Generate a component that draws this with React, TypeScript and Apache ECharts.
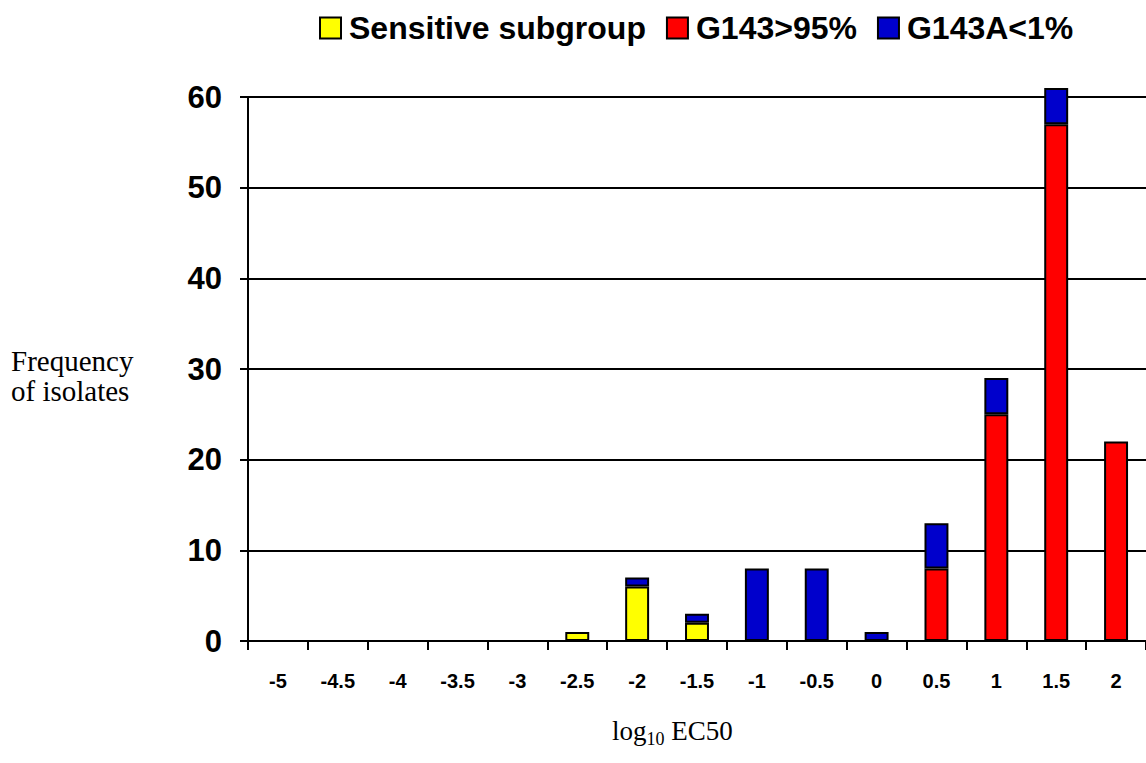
import React, { useEffect, useRef } from "react";
import * as echarts from "echarts";

const categories = ["-5", "-4.5", "-4", "-3.5", "-3", "-2.5", "-2", "-1.5", "-1", "-0.5", "0", "0.5", "1", "1.5", "2"];
const sensitiveSubgroup = [null, null, null, null, null, 1, 6, 2, null, null, null, null, null, null, null];
const g143High = [null, null, null, null, null, null, null, null, null, null, null, 8, 25, 57, 22];
const g143aLow = [null, null, null, null, null, null, 1, 1, 8, 8, 1, 5, 4, 4, null];
const yTicks = [0, 10, 20, 30, 40, 50, 60];

const SANS = "'Liberation Sans', Arial, Helvetica, sans-serif";
const SERIF = "'Liberation Serif', 'Times New Roman', Times, serif";

export default function App() {
  const ref = useRef<HTMLDivElement>(null);
  useEffect(() => {
    if (!ref.current) return;
    const chart = echarts.init(ref.current, null, { renderer: "svg" });
    const border = { borderColor: "#000", borderWidth: 2 };
    chart.setOption({
      animation: false,
      backgroundColor: "#fff",
      legend: {
        left: 314,
        top: 7,
        itemWidth: 21,
        itemHeight: 21,
        itemGap: 20,
        icon: "rect",
        itemStyle: { borderColor: "#000", borderWidth: 2 },
        textStyle: { fontFamily: SANS, fontWeight: "bold", fontSize: 32, color: "#000", padding: [0, 0, 0, 3] },
        data: ["Sensitive subgroup", "G143>95%", "G143A<1%"],
      },
      grid: { left: 248, right: -9, top: 97, bottom: 122, containLabel: false },
      xAxis: {
        type: "category",
        data: categories,
        boundaryGap: true,
        axisLine: { lineStyle: { color: "#000", width: 2 } },
        axisTick: { show: true, length: 9, lineStyle: { color: "#000", width: 2 } },
        axisLabel: { fontFamily: SANS, fontWeight: "bold", fontSize: 20, color: "#000", margin: 30, interval: 0 },
        splitLine: { show: false },
      },
      yAxis: {
        type: "value",
        min: yTicks[0],
        max: yTicks[yTicks.length - 1],
        interval: 10,
        axisLine: { show: true, lineStyle: { color: "#000", width: 2 } },
        axisTick: { show: true, length: 8, lineStyle: { color: "#000", width: 2 } },
        axisLabel: { fontFamily: SANS, fontWeight: "bold", fontSize: 31, color: "#000", margin: 26 },
        splitLine: { show: true, lineStyle: { color: "#000", width: 2 } },
      },
      series: [
        {
          name: "Sensitive subgroup",
          type: "bar",
          stack: "s",
          barWidth: "40%",
          clip: false,
          itemStyle: { color: "#FFFF00", ...border },
          data: sensitiveSubgroup,
        },
        {
          name: "G143>95%",
          type: "bar",
          stack: "s",
          barWidth: "40%",
          clip: false,
          itemStyle: { color: "#FF0000", ...border },
          data: g143High,
        },
        {
          name: "G143A<1%",
          type: "bar",
          stack: "s",
          barWidth: "40%",
          clip: false,
          itemStyle: { color: "#0000CC", ...border },
          data: g143aLow,
        },
      ],
      graphic: [
        {
          type: "text",
          left: 11,
          top: 346,
          style: {
            text: "Frequency\nof isolates",
            fontFamily: SERIF,
            fontSize: 29,
            lineHeight: 30,
            fill: "#000",
            textAlign: "left",
          },
        },
        {
          type: "text",
          left: 612,
          top: 717,
          style: {
            text: "{a|log}{b|10}{a| EC50}",
            rich: {
              a: { fontFamily: SERIF, fontSize: 27, fill: "#000", color: "#000", verticalAlign: "bottom" },
              b: { fontFamily: SERIF, fontSize: 18, fill: "#000", color: "#000", verticalAlign: "bottom", padding: [0, 0, -4, 0] },
            },
          },
        },
      ],
    });
    return () => chart.dispose();
  }, []);
  return <div ref={ref} style={{ position: "fixed", left: 0, top: 0, width: 1146, height: 763, background: "#fff" }} />;
}
